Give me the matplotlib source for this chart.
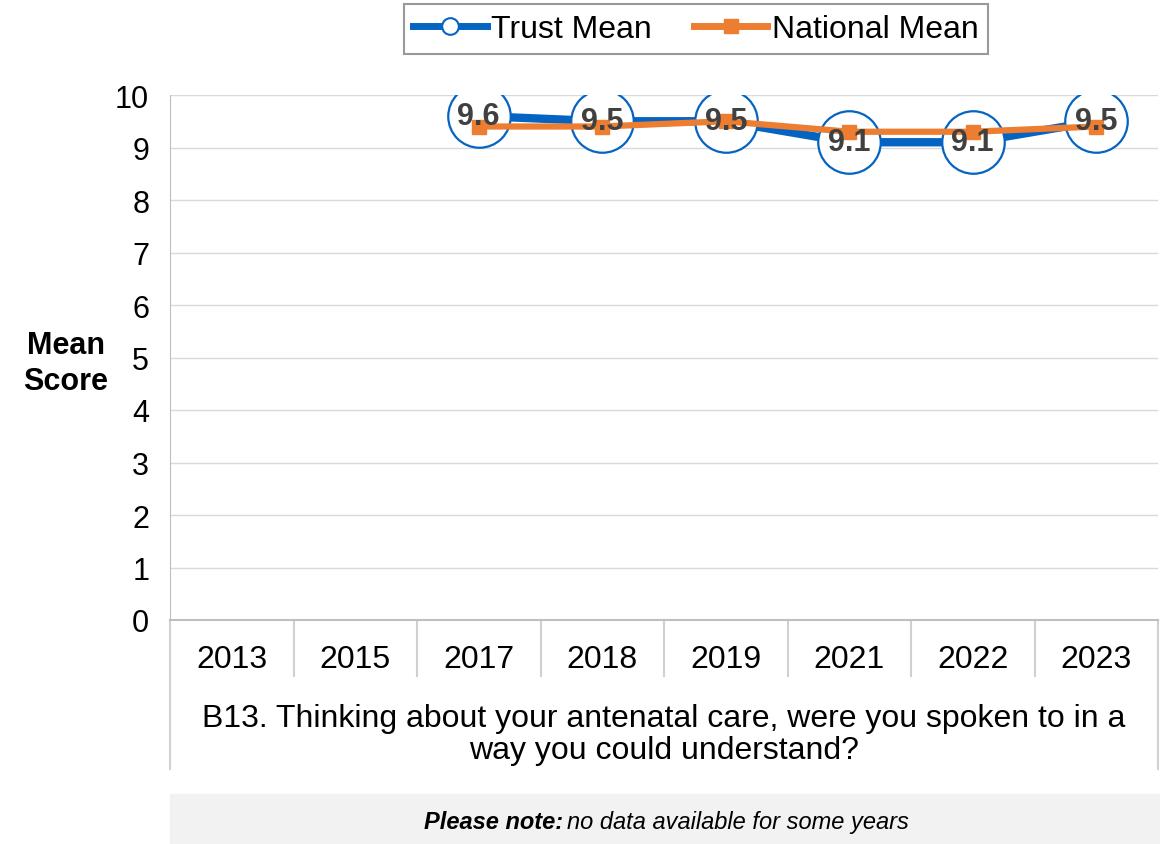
import matplotlib
matplotlib.use('Agg')
import matplotlib.pyplot as plt
from matplotlib.lines import Line2D
from matplotlib.patches import Rectangle
import numpy as np

plt.rcParams['font.family'] = ['Liberation Sans', 'DejaVu Sans']

years = ['2013', '2015', '2017', '2018', '2019', '2021', '2022', '2023']
trust_mean = [np.nan, np.nan, 9.6, 9.5, 9.5, 9.1, 9.1, 9.5]
national_mean = [np.nan, np.nan, 9.4, 9.4, 9.5, 9.3, 9.3, 9.4]
question = ('B13. Thinking about your antenatal care, were you spoken to in a\n'
            'way you could understand?')

blue = '#0563C1'
orange = '#ED7D31'
grey_line = '#BFBFBF'

fig = plt.figure(figsize=(11.6, 8.45), dpi=100)
ax = fig.add_axes([170/1160, 1 - 621/845, 988/1160, 525/845])

x = np.arange(len(years))

ax.plot(x, trust_mean, color=blue, lw=6, marker='o', ms=45,
        mfc='white', mec=blue, mew=1.6, zorder=3)
ax.plot(x, national_mean, color=orange, lw=4.5, marker='s', ms=10,
        mfc=orange, mec=orange, zorder=4)

for xi, v in zip(x, trust_mean):
    if not np.isnan(v):
        ax.text(xi, v, '{:.1f}'.format(v), ha='center', va='center',
                fontsize=22, fontweight='bold', color='#404040', zorder=5)

ax.set_xlim(-0.5, len(years) - 0.5)
ax.set_ylim(0, 10)
ax.set_yticks(range(0, 11))
ax.tick_params(axis='y', length=0, labelsize=22, pad=15)
ax.set_xticks(x)
ax.set_xticklabels(years)
ax.tick_params(axis='x', length=0, labelsize=23, pad=17)

ax.grid(axis='y', color='#D9D9D9', lw=1)
ax.set_axisbelow(True)
for s in ['top', 'right']:
    ax.spines[s].set_visible(False)
ax.spines['left'].set_color(grey_line)
ax.spines['bottom'].set_color(grey_line)
ax.spines['bottom'].set_linewidth(1.5)

# category box lines below the axis
tr = ax.get_xaxis_transform()
for k in range(1, len(years)):
    ax.plot([k - 0.5, k - 0.5], [0, -0.107], color='#D0D0D0', lw=1.5,
            transform=tr, clip_on=False)
for edge in [-0.5, len(years) - 0.5]:
    ax.plot([edge, edge], [0, -0.284], color='#D0D0D0', lw=1.5,
            transform=tr, clip_on=False)

ax.text((len(years) - 1) / 2, -0.217, question, transform=tr, ha='center',
        va='center', fontsize=23, linespacing=1.1)

fig.text(66/1160, 1 - 364/845, 'Mean\nScore', ha='center', va='center',
         fontsize=22, fontweight='bold', linespacing=1.3)

handles = [Line2D([], [], color=blue, lw=5, marker='o', ms=12, mfc='white',
                  mec=blue, mew=1.5),
           Line2D([], [], color=orange, lw=5, marker='s', ms=10, mfc=orange,
                  mec=orange)]
leg = fig.legend(handles, ['Trust Mean', 'National Mean'], loc='center',
                 bbox_to_anchor=(696/1160, 1 - 30/845), ncol=2, fontsize=23,
                 frameon=True, fancybox=False, edgecolor='#808080',
                 handlelength=2.3, handletextpad=0.15, columnspacing=1.3,
                 borderpad=0.3)
leg.get_frame().set_linewidth(1.5)

fig.patches.append(Rectangle((170/1160, 0), 1 - 170/1160, 50/845,
                             transform=fig.transFigure, color='#F2F2F2',
                             zorder=0))
fig.text(563/1160, 1 - 823/845, 'Please note:', ha='right', va='center',
         fontsize=17, fontweight='bold', style='italic')
fig.text(567/1160, 1 - 823/845, 'no data available for some years',
         ha='left', va='center', fontsize=17, style='italic')

fig.savefig('out.png', dpi=100)
